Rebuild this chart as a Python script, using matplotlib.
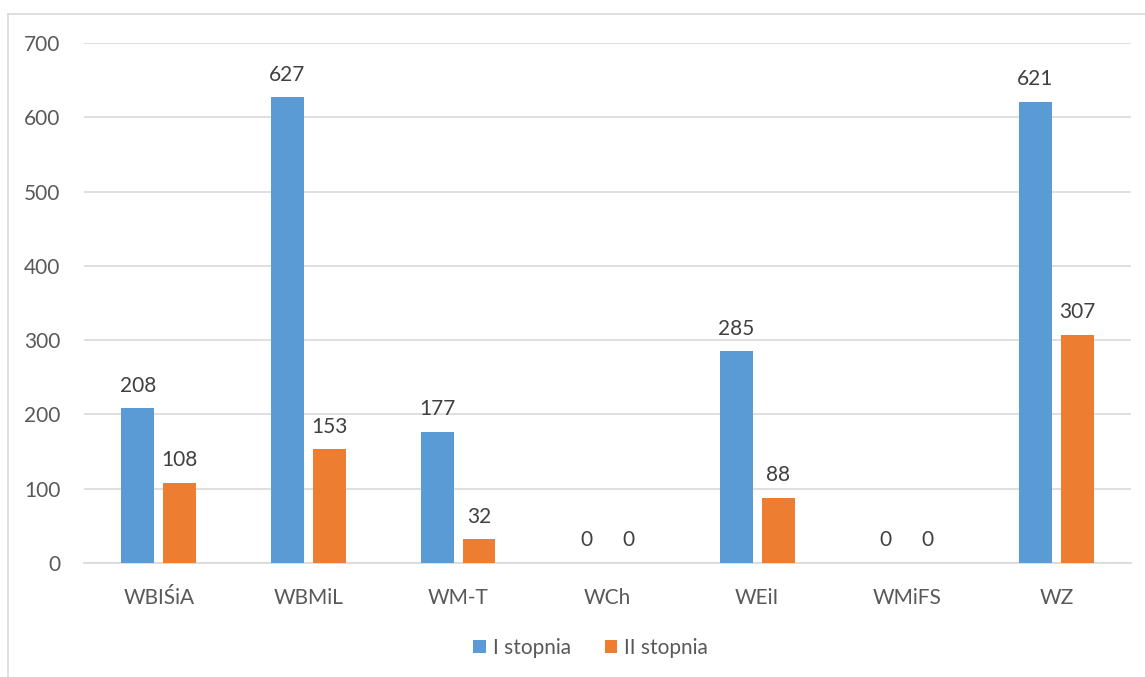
import matplotlib.pyplot as plt
import matplotlib.lines as mlines
import numpy as np

categories = ["WBIŚiA", "WBMiL", "WM-T", "WCh", "WEiI", "WMiFS", "WZ"]
first_degree = [208, 627, 177, 0, 285, 0, 621]
second_degree = [108, 153, 32, 0, 88, 0, 307]
series_names = ["I stopnia", "II stopnia"]

BLUE = "#5B9BD5"
ORANGE = "#ED7D31"
TEXT = "#595959"
GRID = "#D9D9D9"

plt.rcParams["font.family"] = ["Lato", "DejaVu Sans"]

fig = plt.figure(figsize=(11.45, 6.77), dpi=100)
ax = fig.add_axes([0.0734, 0.1684, 0.9146, 0.7681])

x = np.arange(len(categories))
w = 0.22
gap = 0.06
b1 = ax.bar(x - (w + gap) / 2, first_degree, w, color=BLUE, label=series_names[0], zorder=3)
b2 = ax.bar(x + (w + gap) / 2, second_degree, w, color=ORANGE, label=series_names[1], zorder=3)

for bars in (b1, b2):
    for rect in bars:
        h = rect.get_height()
        ax.annotate(f"{int(h)}", (rect.get_x() + rect.get_width() / 2, h),
                    xytext=(0, 9), textcoords="offset points",
                    ha="center", va="bottom", fontsize=15, color="#404040")

ax.set_xlim(-0.5, len(categories) - 0.5)
ax.set_ylim(0, 700)
ax.set_yticks(range(0, 701, 100))
ax.set_xticks(x)
ax.set_xticklabels(categories)
ax.tick_params(axis="both", length=0, labelsize=15, colors=TEXT)
ax.tick_params(axis="x", pad=18)
ax.tick_params(axis="y", pad=17)
ax.grid(axis="y", color=GRID, linewidth=1.2, zorder=0)
for s in ["top", "right", "left"]:
    ax.spines[s].set_visible(False)
ax.spines["bottom"].set_color(GRID)
ax.spines["bottom"].set_linewidth(1.2)

fig.legend(handles=[b1, b2], loc="center", bbox_to_anchor=(0.516, 0.043), ncol=2,
           frameon=False, fontsize=15, labelcolor=TEXT, handlelength=0.6,
           handleheight=0.6, handletextpad=0.35, columnspacing=1.6)

# chart border (Excel-like frame)
fig.add_artist(mlines.Line2D([8 / 1145, 1], [1 - 14 / 677, 1 - 14 / 677],
                             color=GRID, linewidth=1.2, transform=fig.transFigure))
fig.add_artist(mlines.Line2D([8 / 1145, 8 / 1145], [0, 1 - 14 / 677],
                             color=GRID, linewidth=1.2, transform=fig.transFigure))

fig.savefig("out.png", dpi=100)
